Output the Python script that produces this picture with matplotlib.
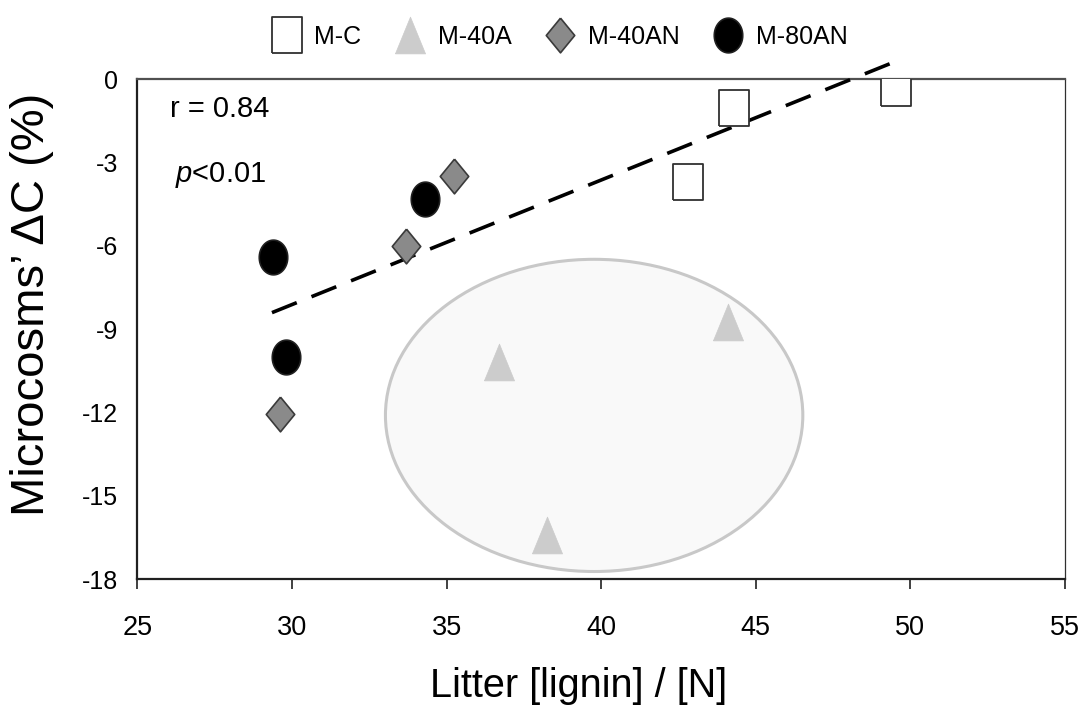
"""Microcosms' carbon change against litter lignin/N ratio"""
import matplotlib
matplotlib.use("Agg")
import matplotlib.pyplot as plt
import numpy as np
from matplotlib import font_manager
from matplotlib.patches import Ellipse

# data
mc_x = [44.29, 42.80, 49.55]
mc_y = [-1.05, -3.70, -0.33]
m40a_x = [44.10, 36.70, 38.23]
m40a_y = [-8.74, -10.20, -16.41]
m40an_x = [35.25, 33.70, 29.62]
m40an_y = [-3.49, -6.00, -12.06]
m80an_x = [34.29, 29.37, 29.81]
m80an_y = [-4.32, -6.40, -10.02]

trend_x = [29.35, 49.49]
trend_y = [-8.41, 0.62]

group_center = (39.77, -12.11)
group_size = (13.5, 11.24)

x_ticks = [25, 30, 35, 40, 45, 50, 55]
y_ticks = [0, -3, -6, -9, -12, -15, -18]

names = {f.name for f in font_manager.fontManager.ttflist}
narrow = "Liberation Sans Narrow" if "Liberation Sans Narrow" in names else "Liberation Sans"
# regular font is wider than the condensed one in the reference
xsize_tick = 21.5 if narrow.endswith("Narrow") else 19.5
xsize_label = 33 if narrow.endswith("Narrow") else 28.5

plt.rcParams["font.family"] = ["Liberation Sans", "DejaVu Sans"]
plt.rcParams["axes.unicode_minus"] = False
plt.rcParams["mathtext.fontset"] = "custom"
plt.rcParams["mathtext.it"] = "Liberation Sans:italic"
plt.rcParams["mathtext.rm"] = "Liberation Sans"


def _marker(kind):
    """markers a bit taller than wide, like the reference"""
    w = 0.41
    if kind == "square":
        v = [(-w, -0.5), (w, -0.5), (w, 0.5), (-w, 0.5), (-w, -0.5)]
    elif kind == "triangle":
        v = [(-w, -0.5), (w, -0.5), (0, 0.5), (-w, -0.5)]
    elif kind == "diamond":
        v = [(0, 0.5), (w, 0), (0, -0.5), (-w, 0), (0, 0.5)]
    else:
        t = np.linspace(0, 2 * np.pi, 60)
        v = list(zip(w * np.cos(t), 0.5 * np.sin(t)))
    return v


fig = plt.figure(figsize=(10.8, 7.05), dpi=100)
ax = fig.add_axes([0.1273, 0.1787, 0.8588, 0.7092])

ell = Ellipse(group_center, group_size[0], group_size[1], facecolor="#f9f9f9",
              edgecolor="#c8c8c8", linewidth=2.2, zorder=1)
ax.add_patch(ell)

ax.plot(trend_x, trend_y, color="black", linewidth=2.6, dashes=(7.4, 4.4),
        clip_on=False, zorder=3)

ax.plot(mc_x, mc_y, linestyle="none", marker=_marker("square"), markersize=26,
        markerfacecolor="white", markeredgecolor="#303030", markeredgewidth=1.3,
        label="M-C", zorder=4)
ax.plot(m40a_x, m40a_y, linestyle="none", marker=_marker("triangle"), markersize=26.5,
        markerfacecolor="#cccccc", markeredgecolor="#cccccc", markeredgewidth=0.5,
        label="M-40A", zorder=4)
ax.plot(m40an_x, m40an_y, linestyle="none", marker=_marker("diamond"), markersize=25,
        markerfacecolor="#8a8a8a", markeredgecolor="#3a3a3a", markeredgewidth=1.2,
        label="M-40AN", zorder=4)
ax.plot(m80an_x, m80an_y, linestyle="none", marker=_marker("circle"), markersize=25,
        markerfacecolor="black", markeredgecolor="#202020", markeredgewidth=1.2,
        label="M-80AN", zorder=4)

ax.set_xlim(25, 55)
ax.set_ylim(-18, 0)
ax.set_xticks(x_ticks)
ax.set_xticklabels([str(v) for v in x_ticks], fontsize=xsize_tick, family=narrow)
ax.set_yticks(y_ticks)
ax.set_yticklabels([str(v) for v in y_ticks], fontsize=18)
ax.tick_params(axis="x", direction="out", length=7, width=1.2, pad=19, color="#202020")
ax.tick_params(axis="y", length=0, pad=14)

for side in ["left", "bottom"]:
    ax.spines[side].set_linewidth(1.6)
    ax.spines[side].set_color("#202020")
ax.spines["top"].set_linewidth(1.6)
ax.spines["top"].set_color("#505050")
ax.spines["right"].set_linewidth(0.9)
ax.spines["right"].set_color("#303030")

ax.text(26.05, -1.08, "r = 0.84", fontsize=21, ha="left", va="center")
ax.text(26.2, -3.70, r"$p$<0.01", fontsize=21, ha="left", va="baseline")

fig.text(32 / 1080, 1 - 304 / 705, "Microcosms\u2019 \u0394C (%)", fontsize=34,
         rotation=90, ha="center", va="center")
fig.text(579 / 1080, 1 - 697 / 705, "Litter [lignin] / [N]", fontsize=xsize_label,
         family=narrow, ha="center", va="baseline")

fig.legend(loc="center", bbox_to_anchor=(561 / 1080, 1 - 37 / 705), ncol=4,
           frameon=False, fontsize=18, handlelength=1.0, handletextpad=0.6,
           columnspacing=1.45, borderpad=0)

fig.savefig("out.png", dpi=100)
